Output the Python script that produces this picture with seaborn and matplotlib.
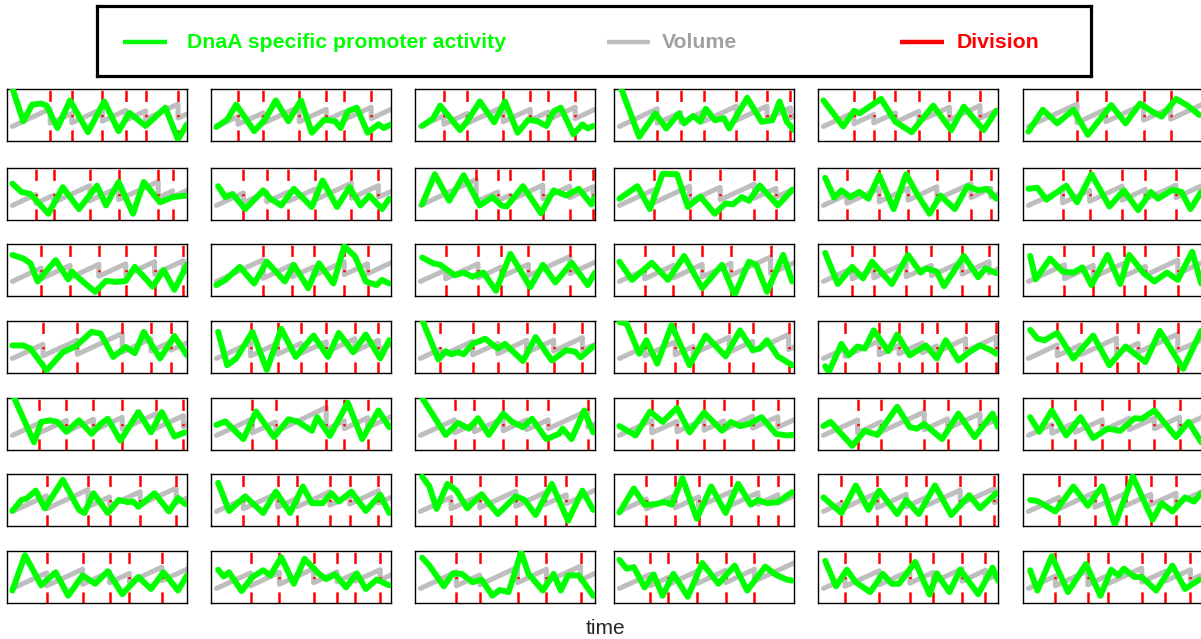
import matplotlib
matplotlib.use("Agg")
import matplotlib.pyplot as plt
import seaborn as sns

# ── data (panel units: x = 0..100 across a panel, y = 0..100 bottom→top) ──

T0, V0 = 3, 28          # where every volume trace starts

# division times per panel
divs_row1 = [[24, 36, 53, 66, 77, 95], [15, 29, 49, 64, 74, 89], [16, 29, 49, 64, 74, 89],
             [24, 37, 50, 68, 85, 98], [20, 31, 43, 56, 73, 90], [30, 46, 67, 82]]
divs_row2 = [[16, 26, 46, 62, 84, 92], [18, 31, 43, 58, 78, 93], [34, 46, 53, 71, 86, 99],
             [22, 42, 59, 78, 90], [16, 34, 50, 66, 85, 96], [22, 37, 55, 68, 85]]
divs_row3 = [[19, 35, 51, 66, 82, 98], [29, 45, 57, 74, 87], [17, 35, 48, 63, 86],
             [17, 33, 49, 65, 87], [19, 31, 49, 63, 80, 95], [23, 39, 56, 68, 86]]
divs_row4 = [[20, 39, 64, 80, 91], [22, 37, 50, 64, 80, 93], [14, 32, 46, 62, 77, 93],
             [17, 34, 44, 64, 77, 97], [15, 34, 45, 58, 66, 82, 99], [19, 32, 52, 64, 86]]
divs_row5 = [[18, 33, 48, 64, 83, 98], [23, 36, 64, 74, 87], [22, 33, 49, 62, 74, 96],
             [21, 35, 50, 61, 77, 91], [22, 35, 59, 72, 90], [16, 29, 44, 59, 73, 87]]
divs_row6 = [[22, 45, 57, 74, 94], [18, 37, 48, 66, 77, 93], [20, 36, 56, 72, 84],
             [18, 34, 47, 65, 80, 91], [13, 33, 49, 60, 79, 98], [20, 40, 57, 71, 85]]
divs_row7 = [[22, 42, 57, 68, 86], [22, 38, 57, 70, 80, 94], [23, 36, 57, 73, 92],
             [20, 30, 46, 62, 78], [15, 34, 51, 64, 80, 93], [18, 36, 47, 66, 79, 93]]

# volume just before each division
peak_row1 = [[62, 53, 62, 59, 58, 71], [47, 54, 66, 61, 56, 65], [49, 53, 66, 61, 56, 65],
             [62, 55, 57, 67, 67, 64], [55, 51, 54, 57, 65, 68], [71, 61, 71, 64]]
peak_row2 = [[49, 48, 66, 63, 74, 56], [52, 54, 54, 60, 71, 66], [78, 54, 48, 67, 65, 64],
             [58, 65, 63, 69, 61], [49, 61, 61, 64, 70, 61], [58, 57, 65, 59, 67]]
peak_row3 = [[54, 59, 61, 62, 66, 68], [70, 60, 56, 66, 62], [50, 62, 56, 61, 76],
             [50, 59, 61, 63, 75], [54, 52, 64, 59, 66, 66], [60, 59, 63, 57, 69]]
peak_row4 = [[55, 63, 76, 66, 60], [58, 57, 57, 60, 66, 63], [46, 61, 57, 63, 63, 68],
             [50, 60, 51, 69, 61, 74], [47, 62, 53, 58, 52, 66, 69], [54, 54, 67, 57, 75]]
peak_row5 = [[52, 57, 59, 63, 70, 66], [60, 54, 82, 56, 62], [58, 51, 61, 58, 58, 76],
             [57, 55, 59, 56, 65, 64], [58, 54, 73, 60, 70], [49, 53, 58, 61, 61, 63]]
peak_row6 = [[58, 70, 56, 66, 73], [52, 63, 54, 66, 58, 68], [55, 59, 67, 64, 60],
             [52, 59, 56, 66, 64, 60], [44, 64, 61, 55, 69, 72], [55, 65, 63, 61, 63]]
peak_row7 = [[58, 65, 60, 57, 69], [58, 59, 66, 60, 57, 64], [60, 54, 69, 65, 71],
             [55, 49, 61, 63, 65], [47, 62, 62, 59, 66, 63], [52, 62, 53, 67, 61, 64]]

# volume just after each division
low_row1 = [[34, 35, 38, 40, 42, 44], [32, 34, 37, 40, 41, 43], [32, 34, 37, 40, 41, 43],
            [34, 36, 38, 40, 43, 45], [33, 35, 36, 38, 41, 44], [35, 37, 40, 42]]
low_row2 = [[32, 34, 37, 39, 43, 44], [33, 35, 36, 39, 42, 44], [35, 37, 38, 41, 43, 45],
            [33, 36, 39, 42, 44], [32, 35, 38, 40, 43, 44], [33, 36, 38, 40, 43]]
low_row3 = [[33, 35, 38, 40, 42, 45], [34, 37, 39, 41, 43], [33, 35, 37, 39, 43],
            [33, 35, 37, 40, 43], [33, 35, 37, 39, 42, 44], [33, 36, 38, 40, 43]]
low_row4 = [[33, 36, 40, 42, 44], [33, 36, 38, 40, 42, 44], [32, 35, 37, 39, 42, 44],
            [33, 35, 37, 40, 42, 45], [32, 35, 37, 39, 40, 42, 45], [33, 35, 38, 40, 43]]
low_row5 = [[33, 35, 37, 40, 42, 45], [33, 35, 40, 41, 43], [33, 35, 37, 39, 41, 44],
            [33, 35, 38, 39, 42, 44], [33, 35, 39, 41, 44], [32, 34, 37, 39, 41, 43]]
low_row6 = [[33, 37, 39, 41, 44], [33, 36, 37, 40, 42, 44], [33, 35, 38, 41, 43],
            [33, 35, 37, 40, 42, 44], [32, 35, 37, 39, 42, 45], [33, 36, 39, 41, 43]]
low_row7 = [[33, 36, 39, 40, 43], [33, 36, 39, 41, 42, 44], [33, 35, 39, 41, 44],
            [33, 35, 37, 39, 42], [32, 35, 38, 40, 42, 44], [33, 35, 37, 40, 42, 44]]

# volume at the right end of each panel
end_row1 = [52, 61, 61, 48, 60, 71]
end_row2 = [57, 55, 47, 60, 50, 67]
end_row3 = [48, 64, 65, 64, 52, 65]
end_row4 = [58, 55, 55, 50, 47, 65]
end_row5 = [48, 64, 50, 58, 60, 64]
end_row6 = [54, 55, 69, 58, 48, 67]
end_row7 = [65, 54, 57, 77, 55, 55]

# DnaA promoter activity (time, level) per panel
act_row1 = [
    [(3, 102), (9, 38), (14, 70), (19, 72), (22, 68), (28, 25), (35, 78), (45, 17), (54, 76), (62, 19), (68, 54), (77, 29), (88, 64), (95, 3), (100, 32)],
    [(3, 27), (9, 41), (14, 70), (24, 19), (30, 41), (36, 78), (43, 38), (50, 78), (56, 16), (63, 41), (69, 38), (72, 25), (76, 57), (81, 64), (87, 16), (93, 32), (96, 25), (100, 32)],
    [(4, 29), (10, 43), (14, 68), (25, 21), (29, 38), (36, 76), (44, 36), (50, 76), (57, 16), (63, 41), (68, 38), (73, 29), (77, 57), (81, 64), (88, 13), (93, 32), (96, 24), (99, 29)],
    [(4, 101), (14, 8), (23, 53), (29, 24), (36, 53), (39, 34), (44, 48), (48, 37), (51, 62), (56, 40), (61, 44), (64, 24), (74, 83), (82, 37), (88, 40), (92, 76), (96, 37), (100, 21)],
    [(3, 78), (14, 28), (20, 58), (23, 53), (35, 81), (43, 37), (52, 17), (64, 68), (74, 21), (81, 66), (92, 21), (99, 58)],
    [(3, 18), (11, 60), (19, 34), (28, 60), (36, 12), (49, 69), (57, 34), (65, 72), (72, 56), (77, 47), (85, 81), (91, 69), (98, 50)],
]
act_row2 = [
    [(3, 70), (8, 54), (13, 50), (23, 12), (31, 63), (40, 21), (50, 66), (55, 28), (62, 73), (70, 12), (76, 73), (85, 34), (92, 44), (100, 47)],
    [(4, 65), (8, 44), (12, 50), (19, 21), (29, 57), (33, 41), (39, 28), (46, 60), (56, 25), (62, 76), (70, 25), (77, 63), (83, 28), (88, 47), (95, 21), (99, 41)],
    [(4, 30), (11, 88), (19, 37), (27, 86), (36, 28), (43, 44), (48, 28), (51, 26), (60, 65), (70, 13), (77, 57), (84, 47), (91, 60), (98, 30), (100, 44)],
    [(3, 41), (13, 65), (20, 21), (27, 89), (35, 88), (41, 25), (48, 45), (56, 12), (62, 32), (66, 30), (71, 44), (75, 37), (81, 66), (91, 28), (99, 58)],
    [(4, 81), (9, 43), (13, 57), (18, 44), (23, 54), (28, 41), (34, 86), (42, 21), (49, 88), (55, 50), (62, 12), (68, 47), (76, 21), (83, 65), (89, 57), (94, 60), (99, 41)],
    [(3, 60), (8, 62), (13, 39), (24, 66), (30, 34), (38, 88), (48, 26), (56, 57), (64, 19), (71, 54), (75, 41), (83, 58), (88, 54), (93, 21), (99, 54)],
]
act_row3 = [
    [(3, 79), (9, 72), (13, 63), (17, 28), (27, 69), (34, 32), (36, 47), (40, 34), (49, 8), (55, 29), (61, 27), (66, 29), (71, 56), (81, 18), (87, 50), (93, 12), (100, 60)],
    [(3, 21), (8, 31), (16, 56), (24, 24), (31, 66), (41, 28), (46, 60), (54, 15), (60, 63), (68, 24), (74, 96), (80, 76), (86, 28), (92, 21), (95, 31), (99, 24)],
    [(4, 74), (10, 63), (14, 60), (22, 40), (27, 45), (32, 37), (38, 45), (45, 10), (53, 81), (64, 17), (71, 60), (78, 26), (87, 64), (96, 21), (100, 45)],
    [(3, 66), (10, 31), (21, 64), (30, 31), (39, 77), (49, 15), (60, 60), (67, 2), (75, 66), (79, 60), (85, 8), (94, 79), (99, 28)],
    [(4, 83), (11, 23), (19, 56), (25, 34), (30, 66), (41, 23), (50, 79), (57, 45), (60, 53), (66, 47), (70, 19), (81, 77), (89, 36), (93, 53), (99, 44)],
    [(4, 77), (7, 32), (15, 72), (22, 47), (28, 45), (33, 55), (38, 21), (47, 79), (54, 23), (59, 79), (67, 44), (73, 28), (80, 45), (86, 31), (94, 85), (99, 24)],
]
act_row4 = [
    [(3, 53), (9, 53), (13, 47), (22, 5), (31, 40), (38, 51), (47, 79), (52, 76), (59, 31), (66, 50), (71, 38), (76, 79), (85, 28), (93, 71), (100, 34)],
    [(4, 79), (9, 15), (14, 28), (23, 79), (31, 6), (39, 85), (47, 31), (57, 72), (65, 31), (71, 77), (79, 40), (86, 74), (94, 28), (99, 63)],
    [(4, 102), (13, 26), (17, 42), (20, 36), (24, 40), (27, 36), (32, 56), (37, 63), (39, 66), (46, 47), (50, 56), (60, 23), (67, 69), (76, 24), (84, 44), (89, 41), (92, 30), (99, 51)],
    [(3, 98), (7, 95), (14, 37), (18, 63), (24, 18), (32, 92), (42, 15), (48, 53), (51, 72), (62, 32), (70, 82), (77, 44), (81, 47), (85, 63), (91, 32), (99, 15)],
    [(4, 13), (6, 2), (13, 56), (17, 34), (22, 51), (26, 47), (31, 82), (39, 42), (44, 74), (51, 34), (60, 53), (66, 28), (71, 63), (78, 24), (84, 40), (90, 53), (96, 44), (99, 37)],
    [(4, 83), (8, 66), (12, 63), (19, 77), (28, 28), (39, 72), (48, 15), (57, 51), (68, 21), (76, 81), (89, 8), (99, 81)],
]
act_row5 = [
    [(4, 100), (15, 15), (19, 54), (24, 57), (28, 54), (33, 35), (40, 57), (47, 31), (52, 50), (56, 60), (63, 18), (73, 73), (80, 34), (86, 73), (93, 26), (99, 34)],
    [(3, 48), (8, 55), (18, 21), (25, 74), (35, 25), (43, 59), (48, 55), (56, 37), (59, 63), (66, 27), (76, 91), (84, 21), (93, 76), (99, 44)],
    [(4, 100), (17, 29), (24, 52), (30, 41), (35, 61), (41, 29), (49, 70), (54, 54), (60, 44), (65, 60), (73, 21), (80, 31), (82, 41), (87, 21), (94, 76), (99, 34)],
    [(3, 46), (12, 28), (20, 74), (27, 54), (35, 81), (42, 34), (50, 72), (60, 37), (65, 54), (70, 46), (75, 50), (82, 63), (90, 31), (96, 28), (100, 29)],
    [(3, 46), (7, 54), (19, 8), (26, 37), (33, 29), (44, 83), (51, 44), (55, 41), (59, 50), (69, 21), (78, 70), (87, 25), (97, 70), (100, 44)],
    [(4, 63), (9, 35), (16, 76), (24, 28), (32, 63), (39, 23), (47, 41), (54, 37), (62, 61), (66, 60), (73, 76), (85, 25), (92, 54), (99, 15)],
]
act_row6 = [
    [(3, 29), (8, 50), (11, 53), (16, 68), (21, 34), (31, 89), (40, 31), (43, 25), (48, 63), (56, 25), (62, 50), (67, 46), (70, 47), (73, 37), (82, 63), (90, 28), (95, 54), (99, 42)],
    [(4, 83), (10, 29), (19, 57), (29, 25), (36, 66), (44, 25), (51, 76), (56, 44), (62, 44), (67, 63), (71, 47), (78, 66), (86, 29), (94, 60), (99, 25)],
    [(4, 95), (8, 76), (12, 33), (18, 81), (23, 68), (29, 34), (37, 61), (46, 23), (56, 57), (61, 50), (67, 21), (76, 81), (85, 10), (93, 68), (99, 31)],
    [(3, 26), (11, 72), (17, 41), (23, 42), (28, 46), (32, 41), (38, 92), (46, 14), (54, 76), (62, 25), (69, 81), (76, 41), (80, 50), (85, 44), (91, 46), (99, 65)],
    [(3, 55), (13, 25), (21, 78), (28, 31), (34, 68), (44, 23), (49, 50), (56, 23), (65, 78), (74, 21), (84, 59), (90, 34), (99, 63)],
    [(4, 50), (8, 48), (18, 28), (28, 76), (36, 39), (44, 76), (51, 2), (61, 95), (72, 12), (77, 44), (83, 28), (90, 55), (95, 47), (99, 63)],
]
act_row7 = [
    [(3, 24), (10, 92), (19, 34), (27, 59), (34, 14), (42, 53), (49, 37), (56, 61), (64, 17), (73, 50), (80, 27), (87, 59), (95, 24), (100, 53)],
    [(4, 64), (7, 51), (10, 59), (17, 23), (23, 50), (29, 63), (33, 53), (39, 88), (46, 37), (52, 85), (60, 56), (64, 46), (69, 55), (75, 30), (81, 57), (86, 27), (92, 45), (99, 34)],
    [(4, 87), (8, 72), (16, 32), (21, 57), (26, 56), (32, 40), (37, 45), (43, 14), (47, 25), (52, 21), (59, 98), (63, 56), (71, 24), (77, 56), (81, 24), (85, 53), (91, 53), (99, 14)],
    [(3, 83), (7, 66), (11, 69), (17, 30), (22, 55), (27, 14), (33, 56), (41, 12), (49, 77), (58, 37), (67, 72), (74, 24), (84, 70), (90, 54), (96, 45), (99, 43)],
    [(4, 81), (10, 32), (16, 64), (21, 40), (29, 21), (36, 56), (41, 37), (45, 37), (54, 79), (62, 16), (66, 57), (73, 21), (79, 64), (89, 17), (97, 68), (100, 43)],
    [(4, 63), (8, 24), (16, 90), (25, 21), (35, 75), (43, 14), (49, 64), (53, 53), (56, 66), (62, 50), (66, 50), (74, 24), (83, 72), (90, 27), (98, 45)],
]

legend_labels = ["DnaA specific promoter activity", "Volume", "Division"]

divs = [divs_row1, divs_row2, divs_row3, divs_row4, divs_row5, divs_row6, divs_row7]
peaks = [peak_row1, peak_row2, peak_row3, peak_row4, peak_row5, peak_row6, peak_row7]
lows = [low_row1, low_row2, low_row3, low_row4, low_row5, low_row6, low_row7]
ends = [end_row1, end_row2, end_row3, end_row4, end_row5, end_row6, end_row7]
acts = [act_row1, act_row2, act_row3, act_row4, act_row5, act_row6, act_row7]

# ── style / layout ─────────────────────────────────────────────

GREEN = "#00ff00"
GRAY = "#bebebe"
GRAY_TXT = "#a0a0a0"
RED = "#ff0000"

W, H = 1201, 639
COL_LEFT = [7, 211, 415, 614, 818, 1023]
ROW_TOP = [89, 168, 244, 321, 398, 474, 551]
PW, PH = 180, 52

sns.set_theme(style="white")
plt.rcParams["font.family"] = ["Liberation Sans", "DejaVu Sans"]
plt.rcParams["lines.scale_dashes"] = False

fig = plt.figure(figsize=(W / 100, H / 100), dpi=100)

DASH = (0, (8, 9.5, 1.5, 9.5))

for r in range(7):
    for c in range(6):
        ax = fig.add_axes([COL_LEFT[c] / W, 1 - (ROW_TOP[r] + PH) / H, PW / W, PH / H])
        d = divs[r][c]
        vx = [T0]
        vy = [V0]
        for t, p, lo in zip(d, peaks[r][c], lows[r][c]):
            vx += [t, t]
            vy += [p, lo]
        vx.append(100)
        vy.append(ends[r][c])
        sns.lineplot(x=vx, y=vy, ax=ax, color=GRAY, lw=3.6, estimator=None,
                     sort=False, zorder=1)
        ax.vlines(d, 0, 100, colors=RED, lw=1.8, linestyles=[DASH], zorder=2)
        gx = [p[0] for p in acts[r][c]]
        gy = [p[1] for p in acts[r][c]]
        sns.lineplot(x=gx, y=gy, ax=ax, color=GREEN, lw=4.3, estimator=None,
                     sort=False, zorder=3, solid_joinstyle="round",
                     solid_capstyle="round")
        ax.set_xlim(0, 100)
        ax.set_ylim(0, 100)
        ax.set_xticks([]); ax.set_yticks([])
        ax.set_xlabel(""); ax.set_ylabel("")
        for s in ax.spines.values():
            s.set_visible(True)
            s.set_color("black")
            s.set_linewidth(1.0)

# legend box drawn by hand
lx0, ly0, lw_, lh_ = 97, 6, 994, 70
leg = fig.add_axes([lx0 / W, 1 - (ly0 + lh_) / H, lw_ / W, lh_ / H])
leg.set_xlim(0, lw_); leg.set_ylim(0, lh_)
leg.set_xticks([]); leg.set_yticks([])
for s in leg.spines.values():
    s.set_visible(True)
    s.set_color("black")
    s.set_linewidth(2.3)

handle_x = [(26, 70), (510, 553), (803, 847)]
text_x = [90, 565, 860]
cols = [GREEN, GRAY, RED]
txt_cols = [GREEN, GRAY_TXT, RED]
for (a, b), tx, lc, tc, lab in zip(handle_x, text_x, cols, txt_cols, legend_labels):
    leg.plot([a, b], [34, 34], color=lc, lw=3.2, solid_capstyle="butt")
    leg.text(tx, 34, lab, color=tc, fontsize=15.3, fontweight="bold", va="center", ha="left")

fig.text(605 / W, 1 - 628 / H, "time", ha="center", va="center", fontsize=15)

fig.savefig("out.png", dpi=100)
